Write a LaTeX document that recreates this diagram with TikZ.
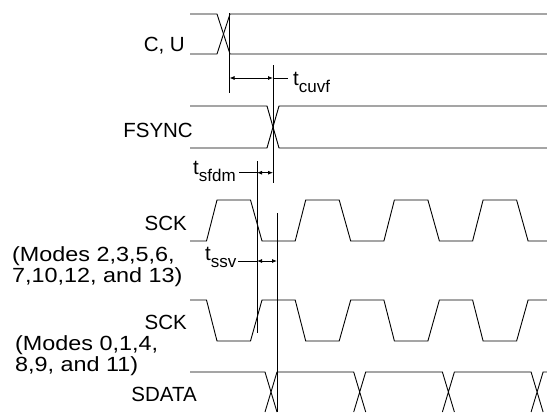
\documentclass[tikz,border=0pt]{standalone}
\usepackage{fontspec}
\setmainfont{Liberation Sans}
\usetikzlibrary{arrows.meta}
\newcommand{\tlab}[1]{t\raisebox{-7pt}{\fontsize{17}{17}\selectfont #1}}
\newcommand{\wide}[1]{\scalebox{1.14}[1]{#1}}
\begin{document}
\begin{tikzpicture}[x=1pt,y=-1pt,
  wave/.style={line width=0.9pt,line join=miter},
  guide/.style={line width=0.8pt},
  dim/.style={line width=0.8pt,{Latex[length=5pt,width=4pt]}-{Latex[length=5pt,width=4pt]}},
  lbl/.style={font=\fontsize{20.5}{21}\selectfont, inner sep=0pt}]
\useasboundingbox (0,0) rectangle (547,413);

% waveforms
\draw[wave] (190,14)--(217,14)--(230,54)--(547,54);
\draw[wave] (190,54)--(217,54)--(230,14)--(547,14);
\draw[wave] (190,106)--(267,106)--(279,148)--(547,148);
\draw[wave] (190,148)--(267,148)--(279,106)--(547,106);
\draw[wave] (190,241) foreach \r in {206.5,295.2,383.9,472.6}
  { -- (\r,241) -- (\r+10.5,200) -- (\r+44,200) -- (\r+55.5,241) } -- (547,241);
\draw[wave] (190,300) foreach \r in {206.5,295.2,383.9,472.6}
  { -- (\r,300) -- (\r+10.5,341) -- (\r+44,341) -- (\r+55.5,300) } -- (547,300);
\draw[wave] (190,372) foreach \c in {271,359.7,448.4,537.1}
  { -- (\c-6,372) -- (\c+6,412) (\c-6,412) -- (\c+6,372) } -- (547,372);

% guide lines
\coordinate (g1t) at (229.5,13);  \coordinate (g1b) at (229.5,93);
\coordinate (g2t) at (273,65);    \coordinate (g2b) at (273,183);
\coordinate (g3t) at (257,161);   \coordinate (g3b) at (257,333);
\coordinate (g4t) at (277,213);   \coordinate (g4b) at (277,412);
\draw[guide] (g1t)--(g1b);
\draw[guide] (g2t)--(g2b);
\draw[guide] (g3t)--(g3b);
\draw[guide] (g4t)--(g4b);

% dimension arrows
\coordinate (a1l) at (229.5,78); \coordinate (a1r) at (273,78); \coordinate (a1e) at (288,78);
\draw[dim] (a1l)--(a1r); \draw[guide] (a1r)--(a1e);
\coordinate (a2l) at (257,172.7); \coordinate (a2r) at (273,172.7); \coordinate (a2e) at (239,172.7);
\draw[dim] (a2l)--(a2r); \draw[guide] (a2e)--(a2l);
\coordinate (a3l) at (257,261); \coordinate (a3r) at (277,261); \coordinate (a3e) at (238,261);
\draw[dim] (a3l)--(a3r); \draw[guide] (a3e)--(a3l);

% labels
\node[lbl, anchor=base east] (cu) at (185,51) {C, U};
\node[lbl, anchor=base east] (fs) at (193,137.5) {FSYNC};
\node[lbl, anchor=base east] (sck1) at (187,230) {SCK};
\node[lbl, anchor=base west] (m1a) at (12,261.7) {\wide{(Modes 2,3,5,6,}};
\node[lbl, anchor=base west] (m1b) at (12,282.7) {\wide{7,10,12, and 13)}};
\node[lbl, anchor=base east] (sck2) at (187,329) {SCK};
\node[lbl, anchor=base west] (m2a) at (15,350) {\wide{(Modes 0,1,4,}};
\node[lbl, anchor=base west] (m2b) at (15,371.7) {\wide{8,9, and 11)}};
\node[lbl, anchor=base east] (sd) at (197,401) {SDATA};
\node[lbl, anchor=base west] (tc) at (293,85) {\tlab{cuvf}};
\node[lbl, anchor=base west] (tf) at (193,174) {\tlab{sfdm}};
\node[lbl, anchor=base west] (ts) at (205,260) {\tlab{ssv}};
\end{tikzpicture}
\end{document}
